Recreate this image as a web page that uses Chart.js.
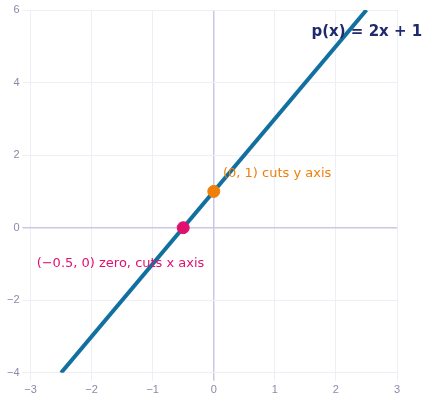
<!DOCTYPE html>
<html><head><meta charset="utf-8">
<script src="https://cdn.jsdelivr.net/npm/chart.js@4"></script>
<style>html,body{margin:0;padding:0;background:#fff}#wrap{width:429px;height:402px}</style>
</head><body><div id="wrap"><canvas id="c"></canvas></div>
<script>
// line p(x) = 2x + 1, visible endpoints
const lineXs = [-2.5, 2.5];
const lineYs = [-4, 6];
// marked points
const pointXs = [0, -0.5];
const pointYs = [1, 0];
const pointColors = ['#f07f09', '#e0106e'];
// annotations: [x, y, text, color, bold]
const notes = [
  [1.6, 5.4, 'p(x) = 2x + 1', '#1f2a6e', true],
  [0.15, 1.5, '(0, 1) cuts y axis', '#f07f09', false],
  [-2.9, -1.0, '(\u22120.5, 0) zero, cuts x axis', '#e0106e', false],
];

const labelPlugin = {
  id: 'labels',
  afterDatasetsDraw(chart) {
    const { ctx, scales: { x, y } } = chart;
    ctx.save();
    ctx.textBaseline = 'middle';
    notes.forEach(([nx, ny, text, color, bold]) => {
      ctx.font = (bold ? 'bold 15px' : '13px') + ' "DejaVu Sans", sans-serif';
      ctx.fillStyle = color;
      ctx.fillText(text, x.getPixelForValue(nx), y.getPixelForValue(ny));
    });
    ctx.restore();
  },
};

const grid = (ctx) => ctx.tick.value === 0 ? '#c9c9e2' : '#eeeef6';

new Chart(document.getElementById('c'), {
  type: 'scatter',
  data: {
    datasets: [
      {
        data: pointXs.map((v, i) => ({ x: v, y: pointYs[i] })),
        pointRadius: 6,
        pointBackgroundColor: pointColors,
        pointBorderColor: pointColors,
      },
      {
        type: 'line',
        data: lineXs.map((v, i) => ({ x: v, y: lineYs[i] })),
        borderColor: '#1170a0',
        borderWidth: 4,
        pointRadius: 0,
        fill: false,
      },
    ],
  },
  options: {
    responsive: true,
    maintainAspectRatio: false,
    animation: false,
    layout: { padding: { top: 10, right: 32, left: 4, bottom: 2 } },
    plugins: { legend: { display: false }, tooltip: { enabled: false } },
    scales: {
      x: {
        type: 'linear', min: -3, max: 3,
        ticks: { stepSize: 1, color: '#8a8aaa', font: { size: 11 },
          callback: (v) => String(v).replace('-', '\u2212') },
        grid: { color: grid, lineWidth: (c) => c.tick.value === 0 ? 1.5 : 1 },
        border: { display: false },
      },
      y: {
        min: -4, max: 6,
        ticks: { stepSize: 2, color: '#8a8aaa', font: { size: 11 },
          callback: (v) => String(v).replace('-', '\u2212') },
        grid: { color: grid, lineWidth: (c) => c.tick.value === 0 ? 1.5 : 1 },
        border: { display: false },
      },
    },
  },
  plugins: [labelPlugin],
});
</script></body></html>
